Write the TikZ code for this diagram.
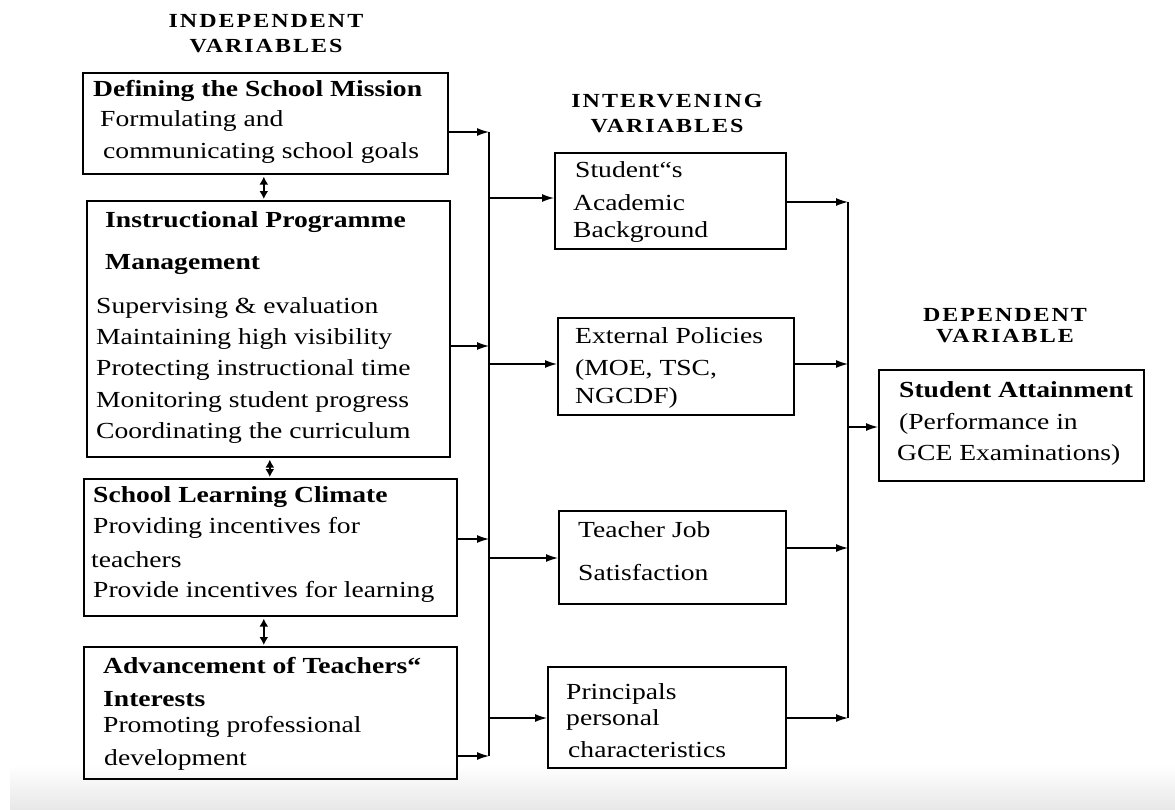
\documentclass[tikz,border=0pt]{standalone}
\usepackage{fontspec}
\setmainfont{Liberation Serif}[FakeStretch=1.2]
\usetikzlibrary{arrows.meta,calc}
\tikzset{
  box/.style={draw, line width=1.6pt, anchor=north west, inner sep=0pt},
  txt/.style={anchor=base west, inner sep=0pt, font=\fontsize{23}{23}\selectfont},
  btxt/.style={anchor=base west, inner sep=0pt, font=\fontsize{23}{23}\selectfont\bfseries},
  hdr/.style={anchor=base, inner sep=0pt, font=\fontsize{20}{20}\selectfont\bfseries\addfontfeatures{LetterSpace=10}},
  arr/.style={line width=1.3pt, -{Latex[length=12pt,width=8pt]}},
  dbl/.style={line width=1.5pt, {Latex[length=8pt,width=9pt]}-{Latex[length=8pt,width=9pt]}},
  bus/.style={line width=1.8pt}
}
\begin{document}
\begin{tikzpicture}[x=1pt,y=-1pt]
\useasboundingbox (0,0) rectangle (1175,809);
\shade[top color=white, bottom color=black!9] (10,765) rectangle (1175,809);

% headers
\node[hdr] (h1a) at (266,27) {INDEPENDENT};
\node[hdr] (h1b) at (266,52) {VARIABLES};
\node[hdr] (h2a) at (667,107) {INTERVENING};
\node[hdr] (h2b) at (667,132) {VARIABLES};
\node[hdr] (h3a) at (1005,321) {DEPENDENT};
\node[hdr] (h3b) at (1005,342) {VARIABLE};

% independent boxes
\node[box, minimum width=365pt, minimum height=101pt] (A) at (82,72) {};
\node[btxt] (a1) at (93,96) {Defining the School Mission};
\node[txt] (a2) at (100,126) {Formulating and};
\node[txt] (a3) at (103,158) {communicating school goals};

\node[box, minimum width=363pt, minimum height=256pt] (B) at (86,200) {};
\node[btxt] (b1t) at (105,227) {Instructional Programme};
\node[btxt] (b2t) at (105,269) {Management};
\node[txt] (b3t) at (96,313) {Supervising \& evaluation};
\node[txt] (b4t) at (96,344) {Maintaining high visibility};
\node[txt] (b5t) at (96,375) {Protecting instructional time};
\node[txt] (b6t) at (96,407) {Monitoring student progress};
\node[txt] (b7t) at (96,438) {Coordinating the curriculum};

\node[box, minimum width=373pt, minimum height=137pt] (C) at (83,478) {};
\node[btxt] (c1) at (93,502) {School Learning Climate};
\node[txt] (c2) at (93,533) {Providing incentives for};
\node[txt] (c3) at (91,567) {teachers};
\node[txt] (c4) at (93,597) {Provide incentives for learning};

\node[box, minimum width=373pt, minimum height=132pt] (D) at (83,646) {};
\node[btxt] (d1) at (103,673) {Advancement of Teachers“};
\node[btxt] (d2) at (103,706) {Interests};
\node[txt] (d3) at (103,732) {Promoting professional};
\node[txt] (d4) at (104,765) {development};

% intervening boxes
\node[box, minimum width=231pt, minimum height=96pt] (E) at (554,152) {};
\node[txt] (e1) at (575,177) {Student“s};
\node[txt] (e2) at (573,210) {Academic};
\node[txt] (e3) at (573,237) {Background};

\node[box, minimum width=236pt, minimum height=97pt] (F) at (557,317) {};
\node[txt] (f1) at (575,343) {External Policies};
\node[txt] (f2) at (575,375) {(MOE, TSC,};
\node[txt] (f3) at (575,403) {NGCDF)};

\node[box, minimum width=227pt, minimum height=93pt] (G) at (558,510) {};
\node[txt] (g1) at (578,537) {Teacher Job};
\node[txt] (g2) at (578,580) {Satisfaction};

\node[box, minimum width=238pt, minimum height=101pt] (H) at (547,666) {};
\node[txt] (hh1) at (566,699) {Principals};
\node[txt] (hh2) at (566,725) {personal};
\node[txt] (hh3) at (568,757) {characteristics};

% dependent box
\node[box, minimum width=265pt, minimum height=111pt] (I) at (878,369) {};
\node[btxt] (i1) at (899,397) {Student Attainment};
\node[txt] (i2) at (899,429) {(Performance in};
\node[txt] (i3) at (897,460) {GCE Examinations)};

% double arrows between independent boxes
\coordinate (ab1) at ($(A.south)+(-1.5,2)$);
\coordinate (ab2) at ($(ab1 |- B.north)+(0,-1)$);
\coordinate (bc1) at ($(B.south)+(1.5,2)$);
\coordinate (bc2) at ($(bc1 |- C.north)+(0,-1)$);
\coordinate (cd1) at ($(C.south)+(-6.5,2)$);
\coordinate (cd2) at ($(cd1 |- D.north)+(0,-1)$);
\draw[dbl] (ab1) -- (ab2);
\draw[dbl] (bc1) -- (bc2);
\draw[dbl] (cd1) -- (cd2);

% left bus
\coordinate (L1) at (489,132);
\coordinate (L2) at (489,346);
\coordinate (L3) at (489,539);
\coordinate (L4) at (489,756);
\draw[bus] (L1) -- (L4);
\draw[arr] (A.east |- L1) -- (L1);
\draw[arr] (B.east |- L2) -- (L2);
\draw[arr] (C.east |- L3) -- (L3);
\draw[arr] (D.east |- L4) -- (L4);

\coordinate (M1) at (489,198);
\coordinate (M2) at (489,364);
\coordinate (M3) at (489,558);
\coordinate (M4) at (489,718);
\draw[arr] (M1) -- (E.west |- M1);
\draw[arr] (M2) -- (F.west |- M2);
\draw[arr] (M3) -- (G.west |- M3);
\draw[arr] (M4) -- (H.west |- M4);

% right bus
\coordinate (R1) at (848,202);
\coordinate (R2) at (848,364);
\coordinate (R3) at (848,548);
\coordinate (R4) at (848,718);
\coordinate (R5) at (848,427);
\draw[bus] (R1) -- (R4);
\draw[arr] (E.east |- R1) -- (R1);
\draw[arr] (F.east |- R2) -- (R2);
\draw[arr] (G.east |- R3) -- (R3);
\draw[arr] (H.east |- R4) -- (R4);
\draw[arr] (R5) -- (I.west |- R5);
\end{tikzpicture}
\end{document}
